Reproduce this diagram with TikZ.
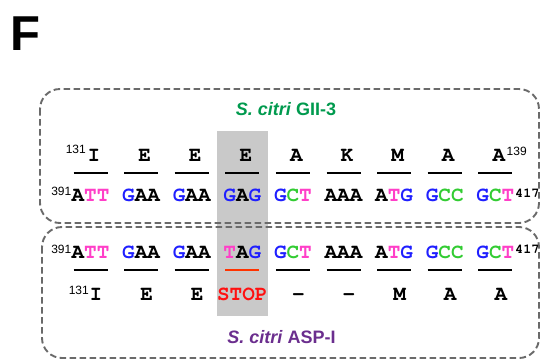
\documentclass[tikz,border=0pt]{standalone}
\usepackage[T1]{fontenc}
\usepackage{fontspec}
\setsansfont{Liberation Sans}
\newfontfamily\labsans{Liberation Sans}
% bold Courier for the sequence letters
\newcommand\courbf{\fontencoding{T1}\fontfamily{pcr}\fontseries{b}\fontshape{n}\selectfont}
\definecolor{ntT}{HTML}{FF3FC8}
\definecolor{ntG}{HTML}{1F1FFF}
\definecolor{ntC}{HTML}{33CC33}
\definecolor{gtitle}{HTML}{009A4E}
\definecolor{ptitle}{HTML}{6B2E8E}
\definecolor{stopred}{HTML}{FF1010}
\definecolor{stopline}{HTML}{FF3300}
\definecolor{dashgray}{HTML}{6A6A6A}
\definecolor{shadegray}{HTML}{C9C9C9}
\newcommand\nT{\textcolor{ntT}{T}}
\newcommand\nG{\textcolor{ntG}{G}}
\newcommand\nC{\textcolor{ntC}{C}}
\tikzset{
  seq/.style={font={\courbf\fontsize{21}{21}\selectfont}, anchor=base, inner sep=0pt},
  supsans/.style={font={\labsans\fontsize{12}{12}\selectfont}, inner sep=0pt},
  supmono/.style={font={\courbf\fontsize{13.5}{13.5}\selectfont}, inner sep=0pt},
  uline/.style={line width=2.6pt},
  dbox/.style={draw=dashgray, line width=1.9pt, dash pattern=on 6.5pt off 3.5pt, rounded corners=20pt},
  strain/.style={font={\labsans\bfseries\fontsize{18}{18}\selectfont}, anchor=base, inner sep=0pt},
}
\begin{document}
\begin{tikzpicture}[x=1pt,y=-1pt]
\useasboundingbox (0,0) rectangle (541,360);
\fill[white] (0,0) rectangle (541,360);

% panel letter
\node[anchor=base west, inner sep=0pt, font={\labsans\bfseries\fontsize{49}{49}\selectfont}] (panel) at (10.5,50) {F};

% shaded column of the mutated codon
\fill[shadegray] (217,131) rectangle (267.5,316);

% dashed frames of the two strains
\draw[dbox] (40,89) rectangle (539,223);
\draw[dbox] (42,227) rectangle (539,358);

% strain names
\node[strain, text=gtitle] (gii) at (286,115) {\textit{S. citri} GII-3};
\node[strain, text=ptitle] (asp) at (281.5,343) {\textit{S. citri} ASP-I};

% GII-3: amino acids above, codons below
\foreach \i/\cod/\aa in {0/{A\nT\nT}/I, 1/{\nG AA}/E, 2/{\nG AA}/E, 3/{\nG A\nG}/E,
    4/{\nG\nC\nT}/A, 5/{AAA}/K, 6/{A\nT\nG}/M, 7/{\nG\nC\nC}/A, 8/{\nG\nC\nT}/A} {
  \pgfmathsetmacro\x{90.5+50.6*\i}
  \node[seq] (a\i) at (\x+3.5,161) {\aa};
  \draw[uline] (\x-17,173) -- (\x+17,173);
  \node[seq] (c\i) at (\x,201) {\cod};
}

% ASP-I: codons above, amino acids below
\foreach \i/\cod in {0/{A\nT\nT}, 1/{\nG AA}, 2/{\nG AA}, 3/{\nT A\nG},
    4/{\nG\nC\nT}, 5/{AAA}, 6/{A\nT\nG}, 7/{\nG\nC\nC}, 8/{\nG\nC\nT}} {
  \pgfmathsetmacro\x{90.5+50.6*\i}
  \node[seq] (d\i) at (\x,258) {\cod};
}
\foreach \i/\aa in {0/I, 1/E, 2/E, 4/-, 5/-, 6/M, 7/A, 8/A} {
  \pgfmathsetmacro\x{90.5+50.6*\i}
  \draw[uline] (\x-17,270) -- (\x+17,270);
  \node[seq] (b\i) at (\x+5.5,300) {\aa};
}
\draw[uline, draw=stopline] (242.3-17,270) -- (242.3+17,270);
\node[seq, text=stopred] (b3) at (242.3,300) {STOP};

% residue and nucleotide numbers
\node[supsans, anchor=base east] (n131a) at (86,153) {131};
\node[supsans, anchor=base west] (n139) at (506.5,155.5) {139};
\node[supsans, anchor=base east] (n391a) at (71.5,195) {391};
\node[supmono, anchor=base west] (n417a) at (515,197) {417};
\node[supsans, anchor=base east] (n391b) at (71.5,253.5) {391};
\node[supmono, anchor=base west] (n417b) at (515,253) {417};
\node[supsans, anchor=base east] (n131b) at (89,294) {131};
\end{tikzpicture}
\end{document}
